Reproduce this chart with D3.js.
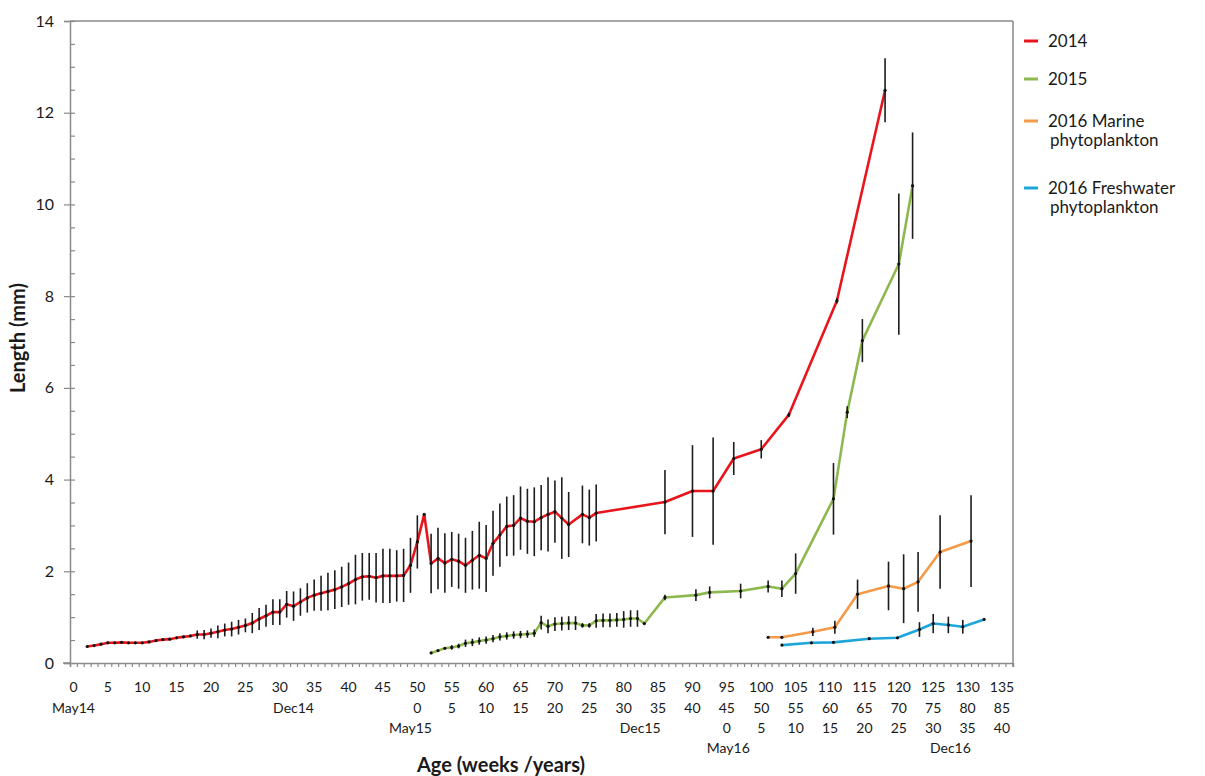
<!DOCTYPE html>
<html>
<head>
<meta charset="utf-8">
<script src="https://cdn.jsdelivr.net/npm/d3@7"></script>
<style>
    body { margin: 0; background: #fff; }
    text { font-family: Lato, "Open Sans", sans-serif; fill: #1a1a1a; }
</style>
</head>
<body>
<svg id="chart"></svg>
<script>
// age in weeks since May 2014, mean length (mm), sd
const weeks2014 = [2,3,4,5,6,7,8,9,10,11,12,13,14,15,16,17,18,19,20,21,22,23,24,25,26,27,28,29,30,31,32,33,34,35,36,37,
    38,39,40,41,42,43,44,45,46,47,48,49,50,51,52,53,54,55,56,57,58,59,60,61,62,63,64,65,66,67,68,69,70,71,72,74,75,76,
    86,90,93,96,100,104,111,118];
const length2014 = [0.36,0.38,0.41,0.44,0.44,0.45,0.44,0.44,0.44,0.46,0.49,0.51,0.52,0.55,0.57,0.59,0.62,0.62,0.65,0.68,
    0.72,0.74,0.78,0.82,0.87,0.96,1.03,1.11,1.11,1.28,1.24,1.33,1.42,1.48,1.52,1.56,
    1.60,1.66,1.73,1.82,1.88,1.89,1.86,1.90,1.90,1.90,1.91,2.13,2.64,3.24,2.17,2.28,2.18,2.26,2.22,2.13,2.24,2.35,2.28,
    2.61,2.79,2.98,3.00,3.16,3.09,3.08,3.17,3.24,3.30,3.16,3.02,3.24,3.17,3.27,
    3.51,3.75,3.75,4.46,4.66,5.41,7.90,12.49];
const sd2014 = [0,0,0,0,0,0,0,0,0,0,0,0,0,0,0,0,0.09,0.10,0.10,0.14,0.14,0.16,0.16,0.15,0.22,0.24,0.24,0.28,0.28,0.29,
    0.32,0.30,0.32,0.34,0.38,0.41,
    0.42,0.44,0.46,0.54,0.52,0.51,0.54,0.59,0.59,0.56,0.58,0.60,0.58,0.03,0.65,0.67,0.65,0.60,0.60,0.60,0.64,0.73,0.73,
    0.71,0.69,0.65,0.66,0.69,0.71,0.75,0.71,0.81,0.68,0.89,0.71,0.63,0.61,0.62,
    0.70,1.00,1.17,0.36,0.20,0.05,0.06,0.70];

const weeks2015 = [52,53,54,55,56,57,58,59,60,61,62,63,64,65,66,67,68,69,70,71,72,73,74,75,76,77,78,79,80,81,82,83,
    86,90.5,92.5,97,101,103,105,110.5,112.5,114.7,120,122];
const length2015 = [0.22,0.27,0.32,0.34,0.37,0.43,0.45,0.48,0.50,0.53,0.57,0.59,0.61,0.62,0.63,0.65,0.88,0.80,0.85,0.86,
    0.87,0.87,0.82,0.82,0.92,0.93,0.93,0.94,0.95,0.97,0.97,0.86,
    1.43,1.48,1.54,1.57,1.67,1.62,1.95,3.58,5.47,7.03,8.70,10.41];
const sd2015 = [0,0,0,0.05,0.05,0.08,0.08,0.08,0.08,0.08,0.08,0.08,0.08,0.08,0.08,0.08,0.15,0.15,0.15,0.15,0.15,0.15,
    0.05,0.05,0.15,0.15,0.15,0.15,0.18,0.18,0.18,0,
    0.06,0.13,0.13,0.16,0.13,0.18,0.44,0.78,0.13,0.47,1.54,1.16];

const weeksMarine = [101,103,107.5,110.7,114,118.5,120.7,122.8,126,130.5];
const lengthMarine = [0.56,0.56,0.68,0.78,1.50,1.68,1.62,1.77,2.42,2.66];
const sdMarine = [0,0,0.09,0.14,0.32,0.53,0.75,0.65,0.80,1.00];

const weeksFresh = [103,107.3,110.5,115.7,119.8,123,125,127.2,129.3,132.4];
const lengthFresh = [0.39,0.44,0.45,0.53,0.55,0.73,0.86,0.83,0.79,0.95];
const sdFresh = [0,0,0,0,0,0.16,0.21,0.18,0.15,0];

const seriesNames = ["2014", "2015", "2016 Marine phytoplankton", "2016 Freshwater phytoplankton"];
const seriesColors = ["#e8161c", "#8db84e", "#f59a48", "#1ea6da"];

const yTicks = [0, 2, 4, 6, 8, 10, 12, 14];
const weekTicks = d3.range(0, 136, 5);
const row2Labels = [{week: 0, text: "May14"}, {week: 32, text: "Dec14"}]
    .concat(d3.range(50, 136, 5).map(w => ({week: w, text: String(w - 50)})));
const row3Labels = [{week: 49, text: "May15"}, {week: 82.4, text: "Dec15"}]
    .concat(d3.range(95, 136, 5).map(w => ({week: w, text: String(w - 95)})));
const row4Labels = [{week: 95.2, text: "May16"}, {week: 127.5, text: "Dec16"}];

class GrowthChart {
    margin = {top: 21, right: 192, bottom: 113, left: 70}

    constructor(svg, width = 943, height = 642) {
        this.svg = svg;
        this.width = width;
        this.height = height;
    }

    initialize() {
        this.svg = d3.select(this.svg)
            .attr("width", this.width + this.margin.left + this.margin.right)
            .attr("height", this.height + this.margin.top + this.margin.bottom);
        this.container = this.svg.append("g")
            .attr("transform", `translate(${this.margin.left}, ${this.margin.top})`);

        this.xScale = d3.scaleLinear().domain([-0.5, 136.6]).range([0, this.width]);
        this.yScale = d3.scaleLinear().domain([0, 14]).range([this.height, 0]);
    }

    drawAxes() {
        const g = this.container;
        const axisColor = "#8a8a8a";

        // frame top and right
        g.append("line").attr("x1", 0).attr("x2", this.width).attr("y1", 0).attr("y2", 0)
            .attr("stroke", axisColor).attr("stroke-width", 1.5);
        g.append("line").attr("x1", this.width).attr("x2", this.width).attr("y1", 0).attr("y2", this.height)
            .attr("stroke", axisColor).attr("stroke-width", 1.5);

        const yAxis = g.append("g")
            .call(d3.axisLeft(this.yScale).tickValues(yTicks).tickSize(6).tickPadding(10));
        yAxis.selectAll("text").attr("font-size", "16px");

        // minor ticks on the inside
        g.append("g")
            .call(d3.axisRight(this.yScale).tickValues(d3.range(0, 14.01, 0.5)).tickSize(5).tickFormat(""))
            .select(".domain").remove();

        const xAxis = g.append("g")
            .attr("transform", `translate(0, ${this.height})`)
            .call(d3.axisBottom(this.xScale).tickValues(d3.range(-0.5, 136.6, 1)).tickSize(4).tickFormat(""));
        xAxis.append("line").attr("x1", -7).attr("x2", 0).attr("stroke", axisColor).attr("stroke-width", 1.5);

        g.selectAll(".domain").attr("stroke", axisColor).attr("stroke-width", 1.5);
        g.selectAll(".tick line").attr("stroke", axisColor).attr("stroke-width", 1.2);

        const rows = [
            {labels: weekTicks.map(w => ({week: w, text: String(w)})), y: 692},
            {labels: row2Labels, y: 713},
            {labels: row3Labels, y: 733},
            {labels: row4Labels, y: 753}
        ];
        rows.forEach(r => {
            this.svg.append("g").selectAll("text")
                .data(r.labels)
                .join("text")
                .attr("x", d => this.margin.left + this.xScale(d.week))
                .attr("y", r.y)
                .attr("text-anchor", "middle")
                .attr("font-size", "14px")
                .text(d => d.text);
        });

        this.svg.append("text")
            .attr("x", 501).attr("y", 772)
            .attr("text-anchor", "middle")
            .attr("font-size", "20px").attr("font-weight", "bold")
            .text("Age (weeks /years)");

        this.svg.append("text")
            .attr("transform", "translate(25, 338) rotate(-90)")
            .attr("text-anchor", "middle")
            .attr("font-size", "20px").attr("font-weight", "bold")
            .text("Length (mm)");
    }

    drawSeries(weeks, values, sds, color) {
        const data = weeks.map((w, i) => ({w: w, v: values[i], sd: sds[i]}));
        const line = d3.line().x(d => this.xScale(d.w)).y(d => this.yScale(d.v));

        this.container.append("path")
            .datum(data)
            .attr("fill", "none")
            .attr("stroke", color)
            .attr("stroke-width", 2.6)
            .attr("stroke-linejoin", "round")
            .attr("d", line);

        this.container.append("g").selectAll("line")
            .data(data.filter(d => d.sd > 0))
            .join("line")
            .attr("x1", d => this.xScale(d.w))
            .attr("x2", d => this.xScale(d.w))
            .attr("y1", d => this.yScale(d.v - d.sd))
            .attr("y2", d => this.yScale(d.v + d.sd))
            .attr("stroke", "#1c1c1c")
            .attr("stroke-width", 1.6);

        this.container.append("g").selectAll("circle")
            .data(data)
            .join("circle")
            .attr("cx", d => this.xScale(d.w))
            .attr("cy", d => this.yScale(d.v))
            .attr("r", 1.6)
            .attr("fill", "#111");
    }

    drawLegend() {
        const entries = [
            {lines: ["2014"], y: 41},
            {lines: ["2015"], y: 79},
            {lines: ["2016 Marine", "phytoplankton"], y: 121},
            {lines: ["2016 Freshwater", "phytoplankton"], y: 188}
        ];
        const legend = this.svg.append("g");
        entries.forEach((e, i) => {
            legend.append("line")
                .attr("x1", 1024).attr("x2", 1038).attr("y1", e.y).attr("y2", e.y)
                .attr("stroke", seriesColors[i]).attr("stroke-width", 3);
            e.lines.forEach((t, j) => {
                legend.append("text")
                    .attr("x", j === 0 ? 1048 : 1050)
                    .attr("y", e.y + 6 + j * 19)
                    .attr("font-size", "17px")
                    .text(t);
            });
        });
    }
}

const chart = new GrowthChart(document.getElementById("chart"));
chart.initialize();
chart.drawAxes();
chart.drawSeries(weeks2014, length2014, sd2014, seriesColors[0]);
chart.drawSeries(weeks2015, length2015, sd2015, seriesColors[1]);
chart.drawSeries(weeksMarine, lengthMarine, sdMarine, seriesColors[2]);
chart.drawSeries(weeksFresh, lengthFresh, sdFresh, seriesColors[3]);
chart.drawLegend();
</script>
</body>
</html>
